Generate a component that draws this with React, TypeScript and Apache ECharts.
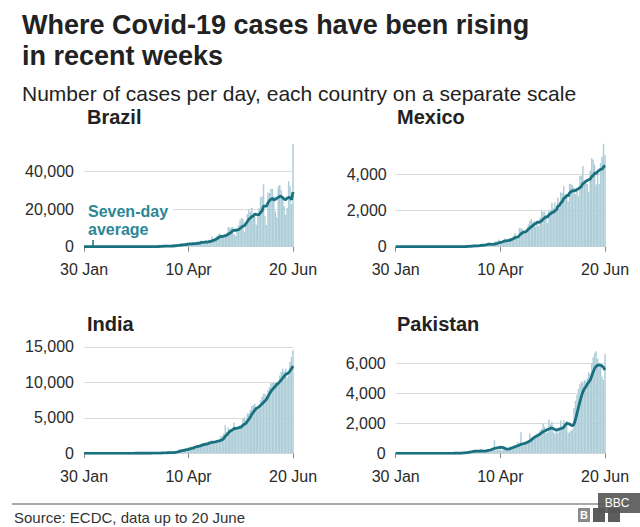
import React, { useEffect, useRef } from "react";
import * as echarts from "echarts";

const FONT = '"Liberation Sans", Arial, Helvetica, sans-serif';

// Categories: 30 Jan .. 20 Jun 2020
const monthDefs: [string, number][] = [["Jan", 31], ["Feb", 29], ["Mar", 31], ["Apr", 30], ["May", 31], ["Jun", 30]];
const dates: string[] = [];
(() => {
  let started = false;
  for (const [m, n] of monthDefs) {
    for (let d = 1; d <= n; d++) {
      const s = `${d} ${m}`;
      if (s === "30 Jan") started = true;
      if (started) dates.push(s);
      if (s === "20 Jun") return;
    }
  }
})();
const tickLabels = ["30 Jan", "10 Apr", "20 Jun"];

const countries = ["Brazil", "Mexico", "India", "Pakistan"];

// ---------- Brazil ----------
const brazilDaily = [
  0, 0,
  0, 0, 0, 0, 0, 0, 0, 0, 0, 0, 0, 0, 0, 0, 0, 0, 0, 0, 0, 0, 0, 0, 0, 0, 0, 1, 0, 0, 1,
  0, 1, 0, 0, 1, 4, 6, 6, 0, 6, 5, 18, 27, 21, 35, 57, 34, 57, 137, 193, 283, 224, 418, 345, 310, 232, 482, 502, 487, 352, 323,
  1138, 1119, 1074, 1146, 1222, 852, 926, 1661, 2210, 1930, 1781, 1089, 1442, 1261, 1832, 3058, 2105, 3257, 2917, 2055, 1927, 2498, 2678, 3735, 3503, 5514, 3379, 4613, 5385, 6276,
  7218, 6209, 4970, 4588, 6633, 6935, 10503, 9888, 10222, 10611, 6760, 5632, 9258, 11385, 13944, 15305, 14919, 7938, 13140, 17408, 19951, 18508, 20803, 16508, 15813, 11687, 16324, 20599, 26417, 26928, 33274,
  16409, 11598, 28936, 28633, 30925, 30830, 27075, 18912, 15654, 32091, 32913, 30412, 25982, 21704, 17110, 20647, 34918, 32188, 22765, 54771,
];
const brazilAvg = [
  0, 0,
  0, 0, 0, 0, 0, 0, 0, 0, 0, 0, 0, 0, 0, 0, 0, 0, 0, 0, 0, 0, 0, 0, 0, 0, 0, 0, 0, 0, 0,
  0, 0, 0, 0, 1, 1, 2, 3, 3, 3, 4, 6, 10, 12, 16, 24, 28, 36, 53, 76, 114, 140, 192, 237, 273, 286, 313, 344, 354, 376, 383,
  502, 629, 714, 806, 911, 982, 1068, 1143, 1299, 1421, 1512, 1493, 1577, 1625, 1649, 1770, 1795, 2006, 2267, 2355, 2450, 2545, 2491, 2724, 2759, 3130, 3319, 3703, 4115, 4629,
  5127, 5513, 5436, 5608, 5897, 6118, 6722, 7104, 7677, 8483, 8793, 8650, 8982, 9108, 9687, 10414, 11029, 11197, 12270, 13434, 14658, 15310, 16095, 16322, 17447, 17240, 17085, 17177, 18307, 19182, 21577,
  21663, 21650, 23452, 24599, 25243, 25801, 24915, 25273, 25852, 26303, 26914, 26841, 26148, 25381, 25124, 25837, 26241, 26137, 25045, 29158,
];

// ---------- Mexico ----------
const mexicoDaily = [
  0, 0,
  0, 0, 0, 0, 0, 0, 0, 0, 0, 0, 0, 0, 0, 0, 0, 0, 0, 0, 0, 0, 0, 0, 0, 0, 0, 0, 0, 1, 1,
  0, 1, 1, 0, 0, 1, 0, 0, 0, 1, 0, 4, 1, 0, 11, 0, 29, 29, 25, 46, 39, 38, 65, 51, 38, 35, 110, 132, 131, 145, 100,
  163, 178, 121, 86, 163, 202, 296, 253, 396, 260, 229, 353, 442, 296, 405, 450, 448, 493, 622, 764, 472, 529, 1043, 1012, 965, 873, 835, 852, 1223, 1425,
  1515, 1349, 1434, 1089, 1434, 1120, 1609, 1982, 1906, 1938, 1562, 1305, 1997, 1992, 2409, 2112, 2437, 1922, 2713, 2248, 2997, 2960, 3329, 2760, 2764, 2485, 3455, 3463, 3377, 3227, 2885,
  3152, 2771, 3891, 3912, 4442, 3593, 3484, 3449, 2999, 4199, 4883, 4790, 4517, 3427, 4147, 3454, 4599, 4930, 5662, 5030,
];
const mexicoAvg = [
  0, 0,
  0, 0, 0, 0, 0, 0, 0, 0, 0, 0, 0, 0, 0, 0, 0, 0, 0, 0, 0, 0, 0, 0, 0, 0, 0, 0, 0, 0, 0,
  0, 0, 1, 1, 1, 1, 1, 0, 0, 0, 0, 1, 1, 1, 2, 2, 6, 11, 14, 20, 26, 29, 39, 42, 43, 45, 54, 67, 80, 92, 99,
  117, 137, 139, 132, 137, 145, 173, 186, 217, 237, 257, 284, 318, 318, 340, 348, 375, 412, 451, 497, 522, 540, 624, 705, 772, 808, 818, 873, 972, 1026,
  1098, 1153, 1233, 1270, 1353, 1338, 1364, 1431, 1511, 1583, 1650, 1632, 1757, 1812, 1873, 1902, 1973, 2025, 2226, 2262, 2405, 2484, 2658, 2704, 2824, 2792, 2964, 3031, 3090, 3076, 3094,
  3149, 3190, 3252, 3316, 3469, 3521, 3606, 3649, 3681, 3725, 3864, 3914, 4046, 4038, 4137, 4202, 4260, 4266, 4391, 4464,
];

// ---------- India ----------
const indiaDaily = [
  1, 0,
  0, 1, 1, 0, 0, 0, 0, 0, 0, 0, 0, 0, 0, 0, 0, 0, 0, 0, 0, 0, 0, 0, 0, 0, 0, 0, 0, 0, 0,
  0, 0, 2, 0, 23, 2, 1, 3, 5, 4, 6, 12, 8, 3, 9, 26, 11, 15, 22, 27, 81, 53, 88, 63, 88, 78, 85, 115, 115, 89, 181,
  287, 265, 485, 561, 472, 512, 355, 704, 507, 859, 906, 909, 796, 1071, 1148, 1090, 1001, 1333, 1370, 1501, 1229, 1540, 1290, 1707, 1752, 1835, 1607, 1561, 1873, 1738,
  1801, 2394, 2442, 2806, 3932, 2963, 3587, 3364, 3344, 3113, 4353, 3607, 3524, 3763, 3942, 3787, 4864, 5050, 4630, 5611, 5609, 6088, 6654, 6767, 6977, 6535, 6387, 6566, 7466, 7964, 8380,
  8392, 8171, 8909, 9304, 9851, 9887, 9971, 9983, 9987, 9985, 10956, 11458, 11929, 11502, 11929, 10667, 10974, 12881, 13586, 14516,
];
const indiaAvg = [
  0, 0,
  0, 0, 0, 0, 0, 0, 0, 0, 0, 0, 0, 0, 0, 0, 0, 0, 0, 0, 0, 0, 0, 0, 0, 0, 0, 0, 0, 0, 0,
  0, 0, 0, 0, 4, 4, 4, 4, 5, 5, 6, 5, 6, 6, 7, 10, 11, 12, 13, 16, 27, 34, 42, 50, 60, 68, 77, 81, 90, 90, 107,
  136, 162, 220, 283, 334, 395, 420, 479, 514, 567, 616, 679, 719, 822, 885, 968, 989, 1050, 1116, 1216, 1239, 1295, 1323, 1424, 1484, 1551, 1566, 1613, 1661, 1725,
  1738, 1830, 1917, 2088, 2427, 2582, 2846, 3070, 3205, 3301, 3522, 3476, 3556, 3581, 3664, 3727, 3977, 4077, 4223, 4521, 4785, 5091, 5501, 5773, 6048, 6320, 6431, 6568, 6765, 6952, 7182,
  7384, 7618, 7978, 8369, 8710, 8985, 9212, 9439, 9699, 9853, 10089, 10318, 10610, 10829, 11107, 11204, 11345, 11620, 11924, 12294,
];

// ---------- Pakistan ----------
const pakistanDaily = [
  0, 0,
  0, 0, 0, 0, 0, 0, 0, 0, 0, 0, 0, 0, 0, 0, 0, 0, 0, 0, 0, 0, 0, 0, 0, 0, 0, 0, 2, 0, 2,
  0, 0, 1, 0, 0, 1, 0, 0, 1, 10, 1, 0, 4, 8, 25, 100, 50, 106, 60, 150, 147, 112, 205, 68, 134, 157, 144, 210, 126, 120, 170,
  248, 224, 258, 171, 342, 880, 186, 236, 197, 520, 172, 300, 252, 254, 220, 272, 310, 456, 514, 411, 495, 752, 615, 1400, 738, 516, 604, 755, 855, 1297,
  990, 1049, 989, 1083, 1315, 1083, 1523, 1637, 1991, 1764, 1362, 1401, 2255, 1932, 2103, 1452, 1281, 1541, 1352, 1581, 2193, 1774, 2203, 1743, 2164, 1356, 1446, 1500, 1600, 3000, 3500,
  3900, 4300, 4600, 4800, 4700, 4900, 4800, 5000, 5400, 5300, 6000, 6400, 6700, 6800, 6300, 5800, 6000, 5100, 4900, 6600,
];
const pakistanAvg = [
  0, 0,
  0, 0, 0, 0, 0, 0, 0, 0, 0, 0, 0, 0, 0, 0, 0, 0, 0, 0, 0, 0, 0, 0, 0, 0, 0, 0, 0, 0, 0,
  0, 0, 0, 0, 0, 0, 0, 0, 0, 2, 2, 2, 2, 3, 7, 21, 28, 43, 50, 72, 91, 105, 125, 138, 140, 151, 154, 163, 153, 150, 150,
  180, 200, 220, 250, 290, 320, 340, 360, 380, 400, 400, 380, 330, 290, 270, 290, 330, 370, 400, 440, 480, 510, 550, 600, 620, 640, 680, 720, 760, 820,
  900, 980, 1060, 1120, 1160, 1220, 1290, 1360, 1440, 1490, 1530, 1580, 1620, 1660, 1690, 1640, 1590, 1550, 1580, 1620, 1650, 1670, 1740, 1880, 2000, 1980, 1930, 1880, 1840, 1950, 2250,
  2670, 3060, 3440, 3800, 4100, 4300, 4440, 4600, 4750, 4890, 5150, 5420, 5670, 5800, 5870, 5890, 5870, 5820, 5720, 5560,
];

const dailySeries = [brazilDaily, mexicoDaily, indiaDaily, pakistanDaily];
const avgSeries = [brazilAvg, mexicoAvg, indiaAvg, pakistanAvg];
const yMax = [55000, 5800, 15000, 7000];
const yInterval = [20000, 2000, 5000, 2000];

// layout (pixels)
const grids = [
  { left: 84, top: 143.6, width: 209, height: 103.1 },
  { left: 395.7, top: 141.3, width: 209.3, height: 105.4 },
  { left: 84, top: 346.8, width: 209, height: 106.5 },
  { left: 395.7, top: 348.3, width: 209.3, height: 105 },
];
const titlePos = [
  [87, 117],
  [397, 117],
  [87, 324],
  [397, 324],
];

const LINE_COLOR = "#19707f";
const BAR_COLOR = "#adcdd8";
const TEXT_COLOR = "#2a2a2a";

export default function App() {
  const ref = useRef<HTMLDivElement>(null);
  useEffect(() => {
    if (!ref.current) return;
    const chart = echarts.init(ref.current, undefined, { renderer: "svg" });
    const fmt = (v: number) => v.toLocaleString("en-US");
    const showIdx = (_i: number, v: string) => tickLabels.includes(v);

    const option: any = {
      animation: false,
      backgroundColor: "#ffffff",
      textStyle: { fontFamily: FONT },
      grid: grids.map((g) => ({ ...g, containLabel: false, outerBoundsMode: "none" })),
      xAxis: countries.map((_, i) => ({
        type: "category",
        gridIndex: i,
        data: dates,
        boundaryGap: false,
        offset: 6,
        axisLine: { show: false },
        axisTick: { show: true, length: 5, interval: showIdx, lineStyle: { color: "#8a8a8a", width: 1 } },
        axisLabel: { interval: showIdx, fontSize: 16, color: TEXT_COLOR, margin: 9, fontFamily: FONT },
        splitLine: { show: false },
      })),
      yAxis: countries.map((_, i) => ({
        type: "value",
        gridIndex: i,
        min: 0,
        max: yMax[i],
        interval: yInterval[i],
        axisLine: { show: false },
        axisTick: { show: false },
        axisLabel: {
          fontSize: 16,
          color: TEXT_COLOR,
          margin: i === 1 ? 9 : 10,
          fontFamily: FONT,
          showMaxLabel: i === 2,
          formatter: fmt,
        },
        splitLine: { show: true, showMaxLine: i === 2, lineStyle: { color: "#dadada", width: 1 } },
      })),
      series: [
        ...countries.map((c, i) => ({
          name: c + " daily",
          type: "bar",
          xAxisIndex: i,
          yAxisIndex: i,
          data: dailySeries[i],
          barCategoryGap: "0%",
          itemStyle: { color: BAR_COLOR },
          silent: true,
          z: 1,
        })),
        ...countries.map((c, i) => ({
          name: c + " average",
          type: "line",
          xAxisIndex: i,
          yAxisIndex: i,
          data: avgSeries[i],
          symbol: "none",
          showSymbol: false,
          lineStyle: { color: LINE_COLOR, width: 2.8 },
          silent: true,
          z: 3,
        })),
      ],
      graphic: [
        {
          type: "text",
          x: 22,
          y: 25,
          z: 100,
          style: { text: "Where Covid-19 cases have been rising", font: `bold 27px ${FONT}`, fill: "#222", textVerticalAlign: "middle" },
        },
        {
          type: "text",
          x: 22,
          y: 56,
          z: 100,
          style: { text: "in recent weeks", font: `bold 27px ${FONT}`, fill: "#222", textVerticalAlign: "middle" },
        },
        {
          type: "text",
          x: 22,
          y: 93,
          z: 100,
          style: { text: "Number of cases per day, each country on a separate scale", font: `21px ${FONT}`, fill: "#222", textVerticalAlign: "middle" },
        },
        ...countries.map((c, i) => ({
          type: "text",
          x: titlePos[i][0],
          y: titlePos[i][1],
          z: 100,
          style: { text: c, font: `bold 20px ${FONT}`, fill: "#222", textVerticalAlign: "middle" },
        })),
        { type: "rect", z: 90, shape: { x: 85, y: 202, width: 88, height: 37 }, style: { fill: "#ffffff" } },
        {
          type: "text",
          x: 88,
          y: 211,
          z: 100,
          style: { text: "Seven-day", font: `bold 16px ${FONT}`, fill: "#2b8796", textVerticalAlign: "middle" },
        },
        {
          type: "text",
          x: 88,
          y: 229,
          z: 100,
          style: { text: "average", font: `bold 16px ${FONT}`, fill: "#2b8796", textVerticalAlign: "middle" },
        },
        { type: "line", z: 100, shape: { x1: 93, y1: 240, x2: 93, y2: 246 }, style: { stroke: LINE_COLOR, lineWidth: 1.5 } },
        { type: "line", z: 100, shape: { x1: 12, y1: 504, x2: 630, y2: 504 }, style: { stroke: "#8c8c8c", lineWidth: 1.5 } },
        {
          type: "text",
          x: 14,
          y: 517,
          z: 100,
          style: { text: "Source: ECDC, data up to 20 June", font: `15px ${FONT}`, fill: "#333", textVerticalAlign: "middle" },
        },
        { type: "rect", z: 100, shape: { x: 578, y: 508, width: 12, height: 14 }, style: { fill: "#8a8a8a" } },
        { type: "rect", z: 100, shape: { x: 593, y: 508, width: 12, height: 14 }, style: { fill: "#5c5c5c" } },
        { type: "rect", z: 100, shape: { x: 608, y: 508, width: 12, height: 14 }, style: { fill: "#5c5c5c" } },
        { type: "text", z: 101, x: 584, y: 515, style: { text: "B", font: `bold 11px ${FONT}`, fill: "#fff", textAlign: "center", textVerticalAlign: "middle" } },
        { type: "rect", z: 102, shape: { x: 598, y: 493, width: 42, height: 20 }, style: { fill: "#555555", opacity: 0.9 } },
        { type: "text", z: 103, x: 617, y: 503, style: { text: "BBC", font: `12px ${FONT}`, fill: "#fff", textAlign: "center", textVerticalAlign: "middle" } },
      ],
    };
    chart.setOption(option);
    return () => chart.dispose();
  }, []);
  return (
    <div
      ref={ref}
      style={{ position: "fixed", left: 0, top: 0, width: 640, height: 527, background: "#fff" }}
    />
  );
}
